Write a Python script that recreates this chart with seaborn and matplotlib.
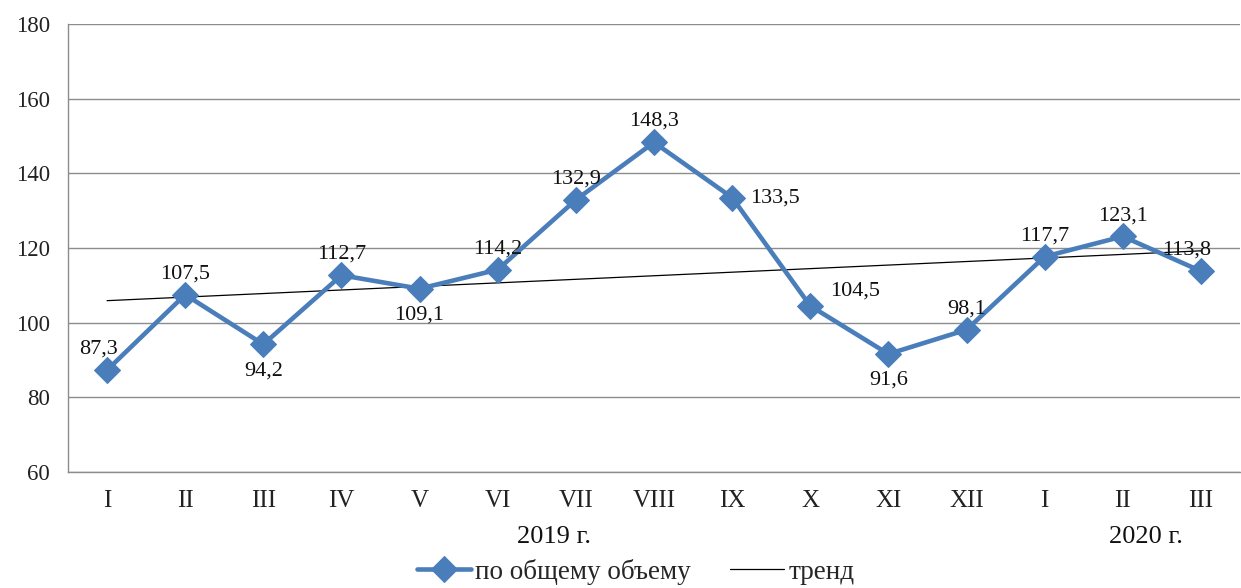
import matplotlib
matplotlib.use("Agg")
import matplotlib.pyplot as plt
import seaborn as sns
import numpy as np
import pandas as pd

months = ["I", "II", "III", "IV", "V", "VI", "VII", "VIII", "IX", "X", "XI", "XII", "I", "II", "III"]
values = [87.3, 107.5, 94.2, 112.7, 109.1, 114.2, 132.9, 148.3, 133.5, 104.5, 91.6, 98.1, 117.7, 123.1, 113.8]
labels = ["87,3", "107,5", "94,2", "112,7", "109,1", "114,2", "132,9", "148,3", "133,5", "104,5", "91,6", "98,1", "117,7", "123,1", "113,8"]
years = ["2019 г.", "2020 г."]
series_name = "по общему объему"
trend_name = "тренд"

sns.set_theme(style="white")
plt.rcParams['font.family'] = ['Liberation Serif', 'DejaVu Serif']

df = pd.DataFrame({"pos": np.arange(len(values)), "value": values})

fig = plt.figure(figsize=(12.41, 5.88), dpi=100)
ax = fig.add_axes([68/1241, 116/588, 1172/1241, 448/588])

blue = "#4A7EBB"
sns.lineplot(data=df, x="pos", y="value", ax=ax, color=blue, linewidth=3.3,
             marker="D", markersize=13.5, markeredgecolor=blue, label=series_name, zorder=3)
sns.regplot(data=df, x="pos", y="value", ax=ax, scatter=False, ci=None,
            line_kws=dict(color="black", linewidth=0.9), label=trend_name, truncate=True)

ax.set_xlim(-0.5, len(values) - 0.5)
ax.set_ylim(60, 180)
ax.set_yticks(range(60, 181, 20))
ax.set_xticks(np.arange(len(values)))
ax.set_xticklabels(months)
ax.set_xticks(np.arange(-0.5, len(values)), minor=True)
ax.tick_params(axis="x", which="major", length=0, pad=13, labelsize=18, colors="#222222")
ax.tick_params(axis="x", which="minor", length=7, width=1, color="#8c8c8c", direction="out")
ax.tick_params(axis="y", length=8, width=1, color="#8c8c8c", direction="out", labelsize=16.5, pad=5)
for t in ax.get_yticklabels():
    t.set_color("#222222")
ax.yaxis.grid(True, color="#8c8c8c", linewidth=1)
ax.set_axisbelow(True)
for s in ["top", "right"]:
    ax.spines[s].set_visible(False)
for s in ["left", "bottom"]:
    ax.spines[s].set_color("#8c8c8c")
    ax.spines[s].set_linewidth(1)
ax.set_xlabel("")
ax.set_ylabel("")

# data labels: (dx in points, dy in points)
offsets = [(-6, 15), (0, 15), (0, -19), (0, 15),
           (0, -19), (0, 15), (0, 15), (0, 15),
           (31, 0), (32, 11), (0, -19), (0, 15),
           (0, 15), (0, 15), (-10, 15)]
for i, (v, lab) in enumerate(zip(values, labels)):
    dx, dy = offsets[i]
    ax.annotate(lab, (i, v), xytext=(dx, dy), textcoords="offset points",
                ha="center", va="center", fontsize=16, color="#111111", zorder=5)

# year labels
ax.text(5.72, -0.145, years[0], transform=ax.get_xaxis_transform(), ha="center", va="center", fontsize=19, color="#111111")
ax.text(13.3, -0.145, years[1], transform=ax.get_xaxis_transform(), ha="center", va="center", fontsize=19, color="#111111")

ax.get_legend().remove()
handles, labs = ax.get_legend_handles_labels()
fig.legend(handles, labs, loc="center", bbox_to_anchor=(0.512, 0.028), ncol=2, frameon=False,
           fontsize=19.5, handlelength=2.0, columnspacing=1.45, handletextpad=0.15,
           borderpad=0.1)

fig.savefig("out.png", dpi=100)
